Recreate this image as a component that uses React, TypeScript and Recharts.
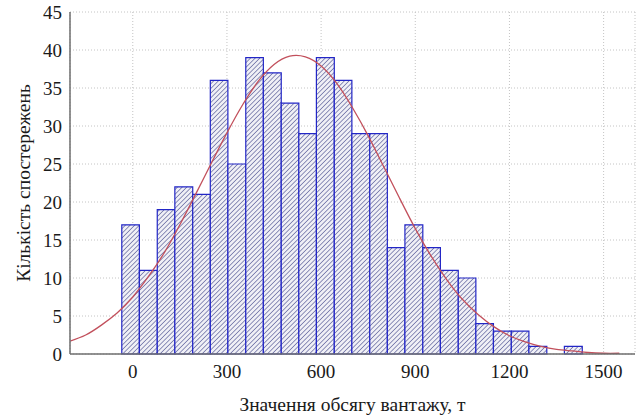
import {
  ComposedChart,
  CartesianGrid,
  XAxis,
  YAxis,
  Line,
  ReferenceArea,
} from 'recharts'

// histogram bins (edges in t) and counts
const binEdges = [
  -35, 21, 78, 134, 191, 247, 303, 360, 416, 473, 529, 585, 642, 698, 755,
  811, 867, 924, 980, 1037, 1093, 1149, 1206, 1262, 1319, 1375, 1432,
]
const counts = [
  17, 11, 19, 22, 21, 36, 25, 39, 37, 33, 29, 39, 36, 29, 29, 14, 17, 14, 11,
  10, 4, 3, 3, 1, 0, 1,
]

// fitted normal curve
const curveX = [
  -200, -150, -100, -50, 0, 50, 100, 150, 200, 250, 300, 350, 400, 450, 500,
  550, 600, 650, 700, 750, 800, 850, 900, 950, 1000, 1050, 1100, 1150, 1200,
  1250, 1300, 1350, 1400, 1450, 1500, 1550,
]
const curveY = [
  1.7, 2.5, 3.8, 5.4, 7.5, 10.2, 13.3, 17.0, 21.0, 25.1, 29.1, 32.8, 35.9,
  38.1, 39.2, 39.1, 37.9, 35.6, 32.4, 28.7, 24.6, 20.5, 16.5, 12.9, 9.8, 7.2,
  5.2, 3.6, 2.4, 1.6, 1.0, 0.6, 0.4, 0.2, 0.1, 0.1,
]

const xTicks = [0, 300, 600, 900, 1200, 1500]
const yTicks = [0, 5, 10, 15, 20, 25, 30, 35, 40, 45]
const topTicks = [
  -150, -95, -40, 14, 69, 124, 179, 234, 288, 343, 398, 453, 508, 562, 617,
  672, 727, 782, 836, 891, 946, 1001, 1056, 1110, 1165, 1220, 1275, 1330,
  1384, 1439, 1494, 1549,
]

const curve = curveX.map((x, i) => ({ x, y: curveY[i] }))

const FONT = '"Liberation Serif", "Times New Roman", serif'
const AXIS = '#6e6e6e'

export default function App() {
  return (
    <div
      style={{
        position: 'absolute',
        left: 0,
        top: 0,
        background: '#fff',
        fontFamily: FONT,
      }}
    >
      <ComposedChart
        width={637}
        height={417}
        data={curve}
        margin={{ top: 12, right: 2, bottom: 0, left: 0 }}
      >
        <defs>
          <pattern
            id="hatch"
            width="3.3"
            height="3.3"
            patternUnits="userSpaceOnUse"
            patternTransform="rotate(45)"
          >
            <rect width="3.3" height="3.3" fill="#f0f0f6" />
            <line x1="0" y1="0" x2="0" y2="3.3" stroke="#575b98" strokeWidth="1.3" />
          </pattern>
        </defs>
        <CartesianGrid stroke="#c4c4c4" strokeDasharray="1 2" />
        <XAxis
          dataKey="x"
          type="number"
          domain={[-200, 1600]}
          ticks={xTicks}
          allowDataOverflow
          height={63}
          stroke={AXIS}
          strokeWidth={1.5}
          tickLine={false}
          tickMargin={5}
          tick={{ fill: '#1a1a1a', fontSize: 19, fontFamily: FONT }}
          label={{
            value: 'Значення обсягу вантажу, т',
            position: 'insideBottom',
            offset: 6,
            fill: '#1a1a1a',
            fontSize: 19.5,
            fontFamily: FONT,
          }}
        />
        <XAxis
          xAxisId="top"
          orientation="top"
          type="number"
          domain={[-200, 1600]}
          ticks={topTicks}
          allowDataOverflow
          height={0}
          mirror
          tick={false}
          tickSize={4}
          stroke={AXIS}
          strokeWidth={1.5}
        />
        <YAxis
          type="number"
          domain={[0, 45]}
          ticks={yTicks}
          width={70}
          stroke={AXIS}
          strokeWidth={1.5}
          tickLine={false}
          tick={{ fill: '#1a1a1a', fontSize: 19, fontFamily: FONT }}
          label={{
            value: 'Кількість спостережень',
            angle: -90,
            position: 'insideLeft',
            offset: 23,
            style: { textAnchor: 'middle' },
            fill: '#1a1a1a',
            fontSize: 19.5,
            fontFamily: FONT,
          }}
        />
        <YAxis
          yAxisId="right"
          orientation="right"
          type="number"
          domain={[0, 45]}
          ticks={yTicks}
          width={0}
          mirror
          tick={false}
          tickSize={4}
          stroke={AXIS}
          strokeWidth={1.5}
        />
        {counts.map((c, i) =>
          c > 0 ? (
            <ReferenceArea
              key={i}
              x1={binEdges[i]}
              x2={binEdges[i + 1]}
              y1={0}
              y2={c}
              fill="url(#hatch)"
              fillOpacity={1}
              stroke="#2226c6"
              strokeWidth={1.2}
            />
          ) : null
        )}
        <Line
          dataKey="y"
          type="natural"
          stroke="#c2505c"
          strokeWidth={1.3}
          dot={false}
          activeDot={false}
          isAnimationActive={false}
        />
      </ComposedChart>
    </div>
  )
}
